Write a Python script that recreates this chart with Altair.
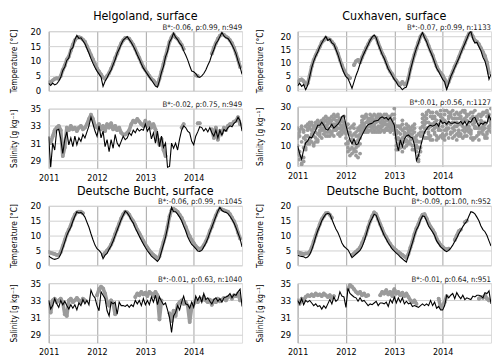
import altair as alt
import pandas as pd

N = None
FONT = "DejaVu Sans Condensed, Liberation Sans Narrow, DejaVu Sans"
YEARS = [2011, 2012, 2013, 2014]
X_DOMAIN = [2011, 2015]
W, H = 195, 60

# ---------------- Helgoland, surface (half-monthly samples from 2011.0) ----------------
HEL_T_MOD = [2.5, 1.8, 2.6, 2.0, 2.3, 3.2, 4.5, 6.8, 8.0, 10.2, 11.0, 13.8, 14.5, 17.2, 18.6, 17.6, 17.8, 16.8, 15.8, 14.2, 12.6, 10.8, 9.2, 7.8,
             6.6, 5.6, 4.6, 1.5, 3.2, 4.4, 5.8, 7.0, 8.8, 10.4, 12.6, 14.0, 15.6, 17.0, 17.6, 18.2, 17.2, 16.2, 15.0, 13.6, 12.0, 10.6, 9.0, 7.6,
             6.6, 5.6, 4.6, 3.6, 2.6, 1.6, 1.2, 3.4, 6.2, 8.2, 11.4, 13.2, 16.4, 17.6, 19.4, 18.0, 17.2, 16.0, 15.2, 13.4, 12.0, 10.4, 8.4, 6.6,
             6.4, 5.8, 4.8, 4.5, 5.0, 5.8, 7.0, 8.6, 10.0, 12.2, 13.8, 15.8, 16.8, 18.2, 19.6, 18.4, 17.8, 17.6, 16.6, 15.4, 14.0, 12.4, 10.0, 8.0,
             5.5]
HEL_T_OBS = [2.8, 3.0, 3.5, 4.0, 4.2, 4.0, 5.0, 7.0, 8.5, 10.5, 11.5, 13.5, 15.5, 17.0, 17.8, 18.0, 17.8, 17.2, 16.5, 15.0, 13.5, 12.0, 10.5, 9.0,
             7.5, 6.5, 5.5, 4.5, 4.0, 5.0, 6.0, 7.5, 9.0, 11.0, 12.5, 14.5, 16.0, 17.0, 17.8, 17.8, 17.5, 16.5, 15.5, 14.0, 12.5, 11.0, 9.5, 8.0,
             7.0, 6.0, 5.0, 4.0, 3.5, 2.5, 2.0, 4.0, 6.5, 9.0, 11.5, 14.0, 16.5, 18.0, 19.0, 18.0, 17.5, 16.5, 15.5, 14.0, N, N, N, N,
             N, 5.2, 5.0, N, N, N, N, N, N, 12.5, 14.5, 16.0, 17.5, 18.5, 19.0, 18.8, 18.2, 17.8, 17.0, 16.0, 14.5, 12.5, 10.5, 8.0,
             N]
HEL_S_MOD = [31.8, 28.2, 31.0, 30.2, 32.5, 32.6, 31.5, 29.8, 31.4, 32.3, 30.8, 31.6, 30.6, 31.8, 30.8, 31.6, 31.2, 32.0, 31.6, 32.3, 33.0, 34.0, 33.2, 32.4,
             31.8, 33.0, 31.6, 32.4, 30.6, 31.4, 30.0, 31.4, 30.4, 32.0, 31.0, 30.6, 31.2, 31.8, 31.4, 31.6, 32.2, 31.9, 32.5, 32.2, 32.7, 32.4, 32.6, 32.5,
             33.2, 32.4, 32.8, 31.5, 32.2, 31.0, 32.4, 30.6, 31.8, 30.5, 31.0, 28.2, 28.3, 31.0, 30.4, 31.0, 30.2, 31.5, 32.5, 33.0, 32.8, 32.4, 32.2, 31.2,
             30.8, 31.8, 32.3, 32.9, 32.8, 32.4, 32.7, 32.3, 32.8, 32.2, 31.8, 32.5, 31.6, 32.5, 31.9, 32.6, 32.4, 32.8, 33.0, 32.9, 33.3, 33.5, 34.0, 33.6,
             32.4]
HEL_S_OBS = [31.5, 31.0, 31.8, 32.5, 32.8, 33.0, 32.5, 29.5, 30.5, 32.8, 32.5, 33.0, 32.6, 32.8, 32.4, 32.8, 33.0, 32.6, 32.8, 33.2, 33.8, 34.3, 33.8, 33.0,
             32.8, 33.2, 32.6, 33.0, 32.4, 33.2, 32.8, 33.3, 32.6, 33.0, 32.5, 32.8, 32.2, 32.0, 32.0, 32.2, 32.5, 33.2, 33.6, 33.4, 33.8, 33.5, 33.2, 33.0,
             33.6, 33.0, 33.4, 32.8, 33.2, 32.6, 31.5, 30.8, 31.5, 30.2, 29.5, N, N, N, N, N, N, N, 32.8, 33.2, N, N, N, N,
             N, N, 33.3, 33.3, N, N, N, N, N, 32.6, 31.6, 32.8, 31.4, 32.4, 32.2, 32.8, 32.5, 33.0, 33.2, 33.2, 33.5, 33.6, 34.0, 33.2,
             N]

# ---------------- Cuxhaven, surface ----------------
CUX_T_MOD = [1.0, 2.0, 0.8, 1.5, -0.5, 1.2, 4.5, 8.0, 10.5, 12.5, 14.0, 16.0, 17.5, 18.8, 20.0, 18.5, 19.0, 17.5, 17.0, 15.0, 13.0, 10.5, 8.0, 6.0,
             4.5, 3.8, 2.0, 0.0, 2.5, 5.0, 7.0, 9.5, 11.8, 13.5, 15.2, 16.8, 18.5, 19.8, 20.5, 19.5, 17.0, 15.0, 13.0, 11.5, 9.5, 7.5, 6.2, 4.8,
             3.5, 2.5, 1.0, 0.5, -0.5, 0.2, 0.5, 3.5, 7.0, 10.0, 13.0, 15.5, 17.5, 20.0, 21.5, 19.5, 18.0, 15.8, 14.0, 12.2, 10.0, 7.8, 6.5, 5.0,
             3.5, 2.5, -0.5, 2.0, 4.5, 6.2, 8.0, 9.8, 11.5, 13.5, 15.5, 17.2, 19.0, 21.0, 22.0, 19.0, 17.5, 17.8, 16.0, 14.5, 12.0, 10.5, 7.5, 3.5,
             5.5]
CUX_T_OBS = [2.5, 3.2, 3.5, 2.8, 1.5, 2.0, 5.0, 8.5, 11.0, 12.8, 14.5, 16.0, 17.8, 18.5, 19.5, 19.0, 18.8, 18.0, 17.0, 15.5, 13.5, 11.0, 9.0, 7.0,
             5.5, 4.8, 4.0, N, 9.0, 10.5, 11.0, 10.0, 12.0, 13.8, 15.5, 17.0, 18.5, 19.5, 20.0, 19.5, 17.5, 15.5, 13.5, 12.0, 10.0, 8.0, 6.5, 5.5,
             4.0, 3.0, 2.0, 1.5, 2.5, 1.5, 1.8, 4.0, 7.5, 10.5, 13.0, 15.5, 17.8, 20.0, 21.0, 20.0, 18.5, 16.5, 14.5, 12.8, 10.5, 8.5, 7.0, 6.0,
             5.0, 3.5, 1.0, 2.5, 4.5, 6.5, 8.5, 10.0, 12.0, 14.0, 15.5, 17.5, 19.5, 21.0, 21.5, 20.0, 18.5, 18.0, 17.0, 15.5, 14.0, 12.5, 10.0, 6.0,
             N]
CUX_S_MOD = [10.0, 6.0, 3.0, 8.0, 11.5, 12.5, 14.5, 14.0, 16.0, 18.0, 20.5, 20.5, 22.0, 20.5, 18.5, 18.0, 19.5, 21.0, 19.0, 20.0, 21.0, 22.5, 25.0, 25.5,
             20.5, 16.5, 13.0, 11.0, 13.5, 10.5, 11.0, 13.5, 15.5, 17.5, 19.5, 20.8, 21.2, 21.5, 22.5, 22.8, 23.0, 24.2, 24.8, 24.0, 24.5, 23.2, 24.5, 22.5,
             20.5, 12.0, 7.5, 13.0, 9.5, 13.5, 15.0, 15.5, 14.5, 14.0, 10.5, 2.5, 5.0, 9.5, 13.5, 17.0, 18.5, 20.0, 20.5, 20.0, 20.5, 21.5, 20.0, 23.0,
             21.5, 22.0, 21.0, 22.5, 21.5, 21.5, 22.0, 21.5, 21.5, 22.5, 21.0, 22.5, 20.5, 22.5, 22.0, 24.0, 24.5, 22.0, 20.0, 21.5, 21.0, 22.0, 21.5, 25.5,
             23.0]
# scattered observation cloud, read as six interleaved sets
CUX_S_OBS_A = ([19, 3, 12, 17, 8] + [21, 13, 18, 11, 22, 16, 20, 14] + [24, 17, 21, 15, 25, 19, 23, 16, 22, 18, 25]
               + [20, 9, 17, 6, 19, 12, 15, 18] + [25, 18, 22, 17, 24, 20, 26, 19, 23, 17, 25, 21, 24, 18, 22, 26]
               + [29, 14, 20, 9, 18, 12, 21, 15, 19, 10, 17, 7, 2, 12]
               + [26, 17, 22, 28, 15, 24, 19, 27, 14, 23, 20, 26, 16, 25, 21, 28, 15, 22, 18, 27, 14, 24, 20, 26, 17,
                  23, 28, 15, 21, 25, 18, 27, 16, 24, 29])
CUX_S_OBS_B = ([10, 18, 1, 14, 20] + [15, 19, 12, 20, 14, 23, 17, 21] + [18, 23, 15, 22, 17, 24, 20, 26, 17, 23, 19]
               + [14, 21, 5, 13, 8, 17, 4, 11] + [19, 24, 17, 23, 20, 25, 18, 22, 26, 19, 23, 17, 21, 25, 19, 23]
               + [21, 18, 11, 16, 7, 19, 13, 17, 11, 20, 14, 10, 16, 19]
               + [20, 25, 14, 22, 27, 18, 24, 13, 21, 26, 16, 23, 28, 19, 25, 14, 22, 27, 17, 24, 20, 15, 26, 22, 18,
                  27, 14, 24, 19, 26, 16, 22, 28, 20, 23])
CUX_S_OBS_C = ([6, 15, 0.5, 9, 13] + [18, 11, 22, 15, 19, 13, 22, 18] + [21, 15, 19, 24, 16, 21, 18, 23, 15, 20, 22]
               + [18, 12, 16, 9, 21, 7, 13, 16] + [22, 17, 25, 20, 18, 23, 21, 25, 18, 22, 20, 24, 19, 23, 17, 21]
               + [16, 10, 17, 13, 21, 9, 16, 12, 18, 14, 8, 13, 5, 15]
               + [17, 23, 19, 14, 25, 21, 16, 27, 19, 15, 24, 18, 22, 14, 27, 19, 24, 16, 21, 25, 18, 28, 15, 20, 24,
                  13, 19, 23, 26, 17, 22, 14, 25, 18, 21])
CUX_S_OBS_D = ([14, 7, 19, 4, 11] + [12, 20, 16, 10, 17, 21, 15, 19] + [16, 20, 24, 18, 21, 15, 25, 19, 21, 16, 20]
               + [11, 17, 8, 15, 11, 5, 19, 14] + [17, 21, 19, 24, 22, 17, 20, 23, 17, 24, 18, 22, 26, 20, 24, 18]
               + [24, 8, 13, 19, 12, 15, 10, 20, 14, 8, 19, 12, 9, 7]
               + [22, 14, 26, 17, 21, 13, 25, 20, 18, 28, 22, 15, 19, 24, 17, 22, 26, 13, 24, 16, 22, 19, 25, 17, 14,
                  21, 23, 19, 16, 22, 26, 19, 14, 23, 17])
CUX_S_OBS_E = ([16, 5, 20, 2, 9] + [19, 14, 21, 17, 12, 20, 16, 22] + [22, 19, 17, 23, 20, 26, 18, 22, 24, 20, 17]
               + [16, 11, 19, 13, 7, 15, 10, 20] + [23, 20, 26, 18, 21, 24, 17, 24, 20, 26, 21, 18, 23, 21, 25, 20]
               + [18, 16, 8, 20, 14, 17, 19, 11, 16, 18, 12, 15, 3, 9]
               + [24, 19, 27, 16, 20, 25, 22, 15, 26, 18, 23, 13, 21, 27, 16, 24, 18, 20, 26, 15, 23, 27, 18, 22, 16,
                  25, 20, 24, 13, 19, 27, 21, 17, 26, 22])
CUX_S_OBS_F = ([8, 17, 4, 18, 15] + [11, 22, 15, 19, 21, 12, 18, 23] + [19, 25, 22, 17, 23, 18, 21, 25, 19, 24, 21]
               + [19, 7, 13, 20, 16, 9, 18, 6] + [21, 25, 18, 22, 26, 19, 23, 17, 25, 20, 22, 26, 18, 24, 21, 19]
               + [26, 20, 14, 11, 23, 16, 12, 18, 13, 16, 21, 9, 12, 17]
               + [15, 21, 24, 19, 13, 27, 17, 23, 20, 25, 14, 28, 18, 22, 26, 17, 20, 24, 15, 21, 28, 17, 23, 19, 27,
                  14, 22, 25, 17, 23, 20, 15, 27, 19, 24])

# ---------------- Deutsche Bucht, surface ----------------
DBS_T_MOD = [3.2, 2.6, 2.2, 2.0, 2.2, 2.5, 3.8, 5.8, 7.8, 10.0, 11.5, 12.8, 14.8, 16.5, 18.0, 17.6, 17.8, 17.2, 16.2, 14.5, 12.8, 10.6, 8.6, 6.8,
             5.6, 5.0, 4.2, 2.2, 3.4, 4.0, 5.4, 6.6, 8.2, 10.0, 11.8, 13.6, 15.4, 16.8, 18.2, 17.6, 16.6, 15.2, 14.2, 12.5, 11.2, 9.8, 8.4, 7.2,
             6.0, 4.9, 4.0, 3.1, 2.5, 1.9, 1.3, 2.2, 4.6, 7.0, 9.4, 12.6, 16.5, 19.5, 18.0, 18.0, 17.2, 16.2, 15.0, 13.2, 11.6, 9.6, 8.2, 7.0,
             6.4, 5.6, 4.8, 4.7, 5.0, 6.2, 7.4, 9.0, 11.0, 12.8, 14.6, 16.4, 18.2, 19.5, 18.4, 18.0, 17.8, 17.4, 16.5, 15.4, 14.2, 12.6, 10.8, 9.0,
             6.2]
DBS_T_OBS = [4.5, 4.2, 4.0, 3.8, 3.5, 3.5, 4.5, 6.5, 8.5, 10.5, 12.0, 13.5, 15.5, 17.0, 17.8, 18.0, 18.0, 17.5, N, N, N, N, N, N,
             N, N, N, 3.5, 4.2, 5.0, 5.8, 7.0, 8.5, 10.5, 12.2, 14.0, 15.8, 17.2, 18.0, 17.8, 17.0, 15.8, 14.8, 13.5, 12.0, 10.8, 9.5, 8.2,
             7.0, 6.0, 5.0, 4.2, 3.5, 3.0, 2.2, 3.0, 5.5, 7.8, 10.0, 13.0, 16.5, 18.5, 19.0, 18.5, 18.0, 17.0, 16.0, 14.5, 13.0, 11.2, 9.8, 8.5,
             7.5, 6.5, 5.8, 5.5, 5.8, 6.8, 8.0, 9.5, 11.5, 13.0, 15.0, 16.8, 18.2, 19.0, 18.8, 18.5, 18.2, 18.0, 17.2, 16.0, 14.8, 13.2, 11.0, 9.0,
             N]
DBS_S_MOD = [33.0, 32.0, 32.4, 33.2, 32.6, 32.2, 33.0, 32.5, 32.9, 32.4, 32.0, 32.5, 32.1, 32.5, 31.9, 32.7, 32.4, 33.1, 32.6, 33.0, 32.5, 34.2, 33.6, 33.3,
             32.4, 31.8, 34.0, 33.6, 33.2, 31.8, 31.2, 32.8, 32.6, 32.8, 31.4, 32.8, 32.4, 32.4, 32.3, 32.5, 32.2, 32.5, 32.3, 33.0, 32.6, 33.0, 32.4, 33.2,
             32.5, 33.0, 32.5, 33.4, 32.8, 33.6, 32.5, 33.4, 32.9, 32.5, 32.7, 31.9, 31.0, 29.3, 31.2, 31.6, 32.4, 31.9, 32.8, 33.5, 32.6, 32.5, 32.1, 32.8,
             32.2, 33.5, 33.0, 33.5, 32.8, 33.8, 33.1, 33.3, 32.9, 32.6, 33.1, 33.3, 32.9, 33.2, 32.8, 33.3, 33.4, 33.5, 33.8, 33.3, 33.7, 33.6, 34.0, 34.3,
             32.3]
DBS_S_OBS = [32.8, 31.6, 33.0, 33.2, 32.8, 33.0, 33.2, 32.8, 31.4, 31.2, 33.0, 33.2, 32.8, 33.0, 33.3, 33.0, 32.8, 33.2, 33.0, N, N, N, N, N,
             33.6, 34.3, 34.6, 34.4, 33.8, 32.8, 32.4, 33.0, 32.6, 31.4, N, N, N, N, N, N, N, N, N, 33.4, 33.8, 33.6, 34.0, 33.7,
             33.9, 33.5, 34.0, 33.8, 33.5, 34.0, 33.6, 30.8, 33.0, N, N, N, 31.5, 30.6, 31.8, 31.2, 32.5, 32.8, 33.0, 32.6, 32.8, 32.4, 30.5, 32.2,
             32.6, 33.0, 32.8, 33.2, 33.0, 33.4, 33.0, 32.8, 33.1, 32.5, 33.0, 32.8, 33.2, 32.9, 33.1, 33.3, 33.0, 33.4, 33.5, 33.2, 33.6, 33.5, 33.8, 33.0,
             N]

# ---------------- Deutsche Bucht, bottom ----------------
DBB_T_MOD = [3.5, 3.1, 3.0, 2.9, 2.5, 2.8, 3.6, 5.2, 7.2, 9.6, 11.6, 13.2, 15.0, 16.2, 17.2, 17.5, 17.2, 15.5, 13.8, 12.2, 11.0, 9.4, 7.5, 6.4,
             5.8, 5.2, 4.0, 2.6, 3.2, 3.8, 4.4, 5.0, 6.2, 8.0, 10.2, 12.6, 14.5, 15.8, 17.2, 16.8, 15.0, 13.2, 11.6, 10.0, 8.8, 7.5, 6.5, 5.4,
             4.8, 4.1, 3.5, 2.8, 2.2, 1.6, 1.1, 3.3, 5.4, 7.6, 10.0, 12.0, 13.2, 15.2, 16.6, 16.4, 15.0, 13.2, 12.2, 11.2, 10.0, 8.2, 7.2, 6.2,
             5.6, 5.0, 4.6, 5.0, 5.8, 6.8, 8.0, 9.2, 10.6, 11.8, 13.0, 14.0, 14.8, 16.5, 18.0, 17.8, 17.3, 16.2, 15.0, 13.2, 12.0, 11.3, 10.0, 8.2,
             6.5]
DBB_T_OBS = [4.5, 4.2, 4.0, 3.8, 4.0, 4.0, 4.5, 6.0, 8.0, 10.0, 12.0, 13.8, 15.5, 16.5, 17.5, 17.6, 17.0, 16.0, N, N, N, N, N, N,
             N, N, N, 3.5, 4.0, 4.6, 5.2, 6.0, 7.5, 9.0, 10.5, 12.8, 14.8, 16.5, 17.8, 17.2, 15.5, 13.8, 12.2, 10.5, 9.5, 8.2, 7.2, 6.2,
             5.6, 5.0, 4.5, 4.0, 3.5, 3.0, 2.5, 3.8, 6.0, 8.0, 10.5, 12.5, 14.0, 15.8, 17.0, 17.2, 15.8, 14.2, 13.0, 12.0, 10.8, 9.0, 7.8, 6.8,
             6.2, 5.6, 5.4, 5.6, N, N, 8.5, 10.0, 11.5, 12.0, N, 14.5, 15.0, N, N, N, N, N, N, N, N, N, N, N,
             N]
DBB_S_MOD = [33.0, 32.6, 33.2, 32.5, 33.0, 32.8, 33.0, 32.7, 32.4, 32.6, 32.3, 32.4, 32.0, 32.4, 32.1, 32.6, 33.1, 32.6, 33.4, 32.9, 33.1, 34.0, 33.5, 33.4,
             32.2, 34.4, 33.8, 33.6, 33.4, 33.3, 32.9, 33.3, 32.9, 33.0, 32.7, 32.4, 32.6, 32.5, 32.7, 32.9, 32.4, 32.7, 32.7, 32.6, 32.8, 32.3, 33.1, 32.7,
             33.4, 32.7, 33.3, 32.8, 33.3, 32.6, 32.9, 32.6, 32.7, 32.3, 32.4, 32.3, 32.2, 32.4, 32.6, 32.4, 32.6, 32.4, 33.0, 32.4, 32.8, 32.1, 32.3, 31.9,
             31.9, 32.4, 33.6, 33.3, 33.6, 33.8, 33.2, 33.9, 33.5, 33.2, 33.6, 33.1, 33.3, 33.2, 33.1, 33.5, 33.4, 33.6, 33.6, 33.5, 33.3, 33.9, 33.8, 34.1,
             32.6]
DBB_S_OBS = [33.0, 32.6, 33.2, 33.0, 33.4, 33.6, 33.5, 33.7, 33.5, 33.8, 33.6, 33.7, 33.5, 33.8, 33.6, 33.4, 33.6, 33.3, 33.5, N, N, N, N, N,
             N, 34.3, 34.8, 34.6, 34.3, 34.0, 33.8, 34.0, 33.6, 33.8, 33.5, 33.6, N, N, N, N, N, 33.6, 34.0, 33.8, 34.2, 33.7, 34.0, 33.5,
             34.3, 33.8, 34.0, 33.6, 33.9, 33.5, 33.8, 33.4, 33.0, 32.8, 33.0, 32.6, N, N, N, N, N, N, N, N, N, N, 33.2, 32.2,
             32.4, 32.8, 33.5, N, N, N, N, N, N, N, N, N, N, N, N, N, N, N, 33.2, 33.4, 33.3, 33.6, 33.2, 33.0,
             N]

T_TICKS = [0, 5, 10, 15, 20]
S_TICKS = [29, 31, 33, 35]
CUX_S_TICKS = [0, 10, 20, 30]
T_TITLE = "Temperature [°C]"
S_TITLE = "Salinity [g kg⁻¹]"


def series(vals, tag=0):
    rows, seg = [], 0
    for i, v in enumerate(vals):
        if v is None:
            seg += 1
            continue
        rows.append({"t": 2011 + i / 24, "v": v, "seg": f"{tag}-{seg}"})
    return pd.DataFrame(rows)


def panel(model, obs_sets, dom, ticks, ytitle, note, xlabels, right, heading=None, band=True):
    obs = pd.concat([series(o, k) for k, o in enumerate(obs_sets)], ignore_index=True)
    xenc = alt.X("t:Q", scale=alt.Scale(domain=X_DOMAIN, nice=False, zero=False),
                 axis=alt.Axis(values=YEARS, format="d", labels=xlabels, title=None, grid=True,
                               gridColor="#8f8f8f", gridWidth=0.8, ticks=False, domain=False,
                               labelFontSize=9, labelPadding=5, labelFont=FONT, labelColor="black",
                               labelFlush=False, labelOverlap=False))
    yenc = alt.Y("v:Q", scale=alt.Scale(domain=dom, nice=False, zero=False),
                 axis=alt.Axis(values=ticks, title=ytitle, grid=True, gridColor="#d0d0d0", gridWidth=1,
                               ticks=False, domain=False, labelFontSize=9.5,
                               labelPadding=7 if right else 8,
                               labelFont=FONT, labelColor="black", labelOverlap=False, labelFlush=False,
                               titleFont=FONT, titleFontSize=8.3, titleFontWeight="normal",
                               titlePadding=15.5 if right else 12, titleColor="black"))
    layers = []
    if band:
        layers.append(alt.Chart(obs).mark_line(color="#9b9b9b", strokeWidth=3.6, strokeCap="round",
                                               strokeJoin="round", clip=True)
                      .encode(x=xenc, y=yenc, detail="seg:N"))
    layers.append(alt.Chart(obs).mark_circle(size=15, color="#9b9b9b", opacity=1, clip=True)
                  .encode(x=xenc, y=yenc))
    layers.append(alt.Chart(series(model)).mark_line(color="black", strokeWidth=1.1, clip=True)
                  .encode(x=xenc, y=yenc))
    layers.append(alt.Chart(pd.DataFrame({"s": [note]})).mark_text(
        align="right", baseline="alphabetic", fontSize=7.8, font=FONT, color="#222222"
    ).encode(x=alt.value(W), y=alt.value(-1.5), text="s:N"))
    if heading:
        layers.append(alt.Chart(pd.DataFrame({"s": [heading]})).mark_text(
            align="center", baseline="alphabetic", fontSize=12.5, font=FONT, color="black"
        ).encode(x=alt.value(W / 2), y=alt.value(-11), text="s:N"))
    return alt.layer(*layers).properties(width=W, height=H)


SP = 5
hel = alt.vconcat(
    panel(HEL_T_MOD, [HEL_T_OBS], [0, 20], T_TICKS, T_TITLE, "B*:-0.06, ρ:0.99, n:949", False, False, "Helgoland, surface"),
    panel(HEL_S_MOD, [HEL_S_OBS], [28.1, 35], S_TICKS, S_TITLE, "B*:-0.02, ρ:0.75, n:949", True, False),
    spacing=SP)
cux = alt.vconcat(
    panel(CUX_T_MOD, [CUX_T_OBS], [-0.9, 22], T_TICKS, T_TITLE, "B*:-0.07, ρ:0.99, n:1133", False, True, "Cuxhaven, surface"),
    panel(CUX_S_MOD, [CUX_S_OBS_A, CUX_S_OBS_B, CUX_S_OBS_C, CUX_S_OBS_D, CUX_S_OBS_E, CUX_S_OBS_F], [-0.4, 30],
          CUX_S_TICKS, S_TITLE, "B*:0.01, ρ:0.56, n:1127", True, True, band=False),
    spacing=SP)
dbs = alt.vconcat(
    panel(DBS_T_MOD, [DBS_T_OBS], [0, 20], T_TICKS, T_TITLE, "B*:-0.06, ρ:0.99, n:1045", False, False, "Deutsche Bucht, surface"),
    panel(DBS_S_MOD, [DBS_S_OBS], [28.1, 35], S_TICKS, S_TITLE, "B*:-0.01, ρ:0.63, n:1040", True, False),
    spacing=SP)
dbb = alt.vconcat(
    panel(DBB_T_MOD, [DBB_T_OBS], [0, 20], T_TICKS, T_TITLE, "B*:-0.09, ρ:1.00, n:952", False, True, "Deutsche Bucht, bottom"),
    panel(DBB_S_MOD, [DBB_S_OBS], [28.1, 35], S_TICKS, S_TITLE, "B*:-0.01, ρ:0.64, n:951", True, True),
    spacing=SP)

chart = alt.vconcat(
    alt.hconcat(hel, cux, spacing=12),
    alt.hconcat(dbs, dbb, spacing=12),
    spacing=1,
).properties(padding=0).configure_view(stroke="black", strokeWidth=1).configure(background="white")

chart.save("out.html", embed_options={"renderer": "svg", "actions": False})
